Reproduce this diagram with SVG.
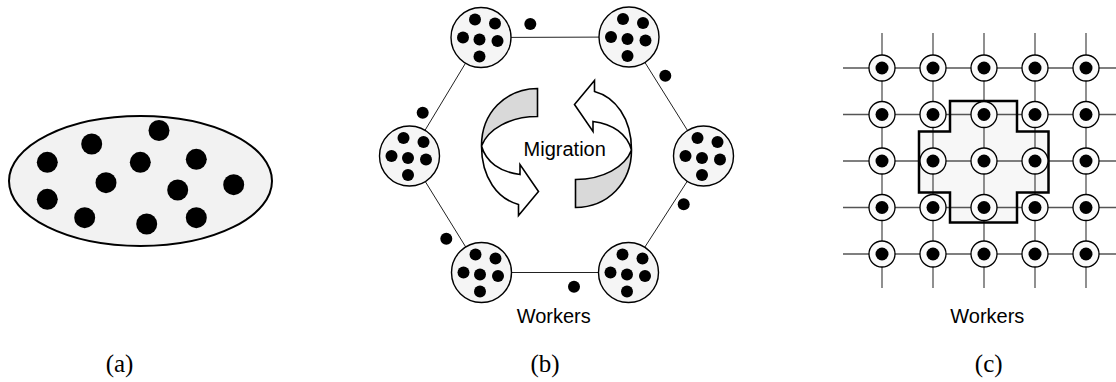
<svg xmlns="http://www.w3.org/2000/svg" xmlns:xlink="http://www.w3.org/1999/xlink" width="1116" height="382" viewBox="0 0 1116 382">
<style>
.dot{fill:#000}
.wc{fill:#f5f5f5;stroke:#000;stroke-width:1.4}
.edge{stroke:#222;stroke-width:1;fill:none}
.grid{stroke:#555;stroke-width:1.3;fill:none}
.gn{fill:#fafafa;stroke:#000;stroke-width:1.3}
.sans{font-family:"Liberation Sans",Arial,sans-serif;font-size:20px;fill:#000}
.serif{font-family:"Liberation Serif","Times New Roman",serif;font-size:25px;fill:#000}
.arr{stroke:#000;stroke-width:1.6;stroke-linejoin:miter}
</style>
<defs>
<g id="worker">
<circle class="wc" cx="0" cy="0" r="30"/>
<circle class="dot" cx="-6" cy="-18" r="6"/>
<circle class="dot" cx="14" cy="-14" r="6"/>
<circle class="dot" cx="-18" cy="0" r="6"/>
<circle class="dot" cx="-1.5" cy="2" r="6"/>
<circle class="dot" cx="16.5" cy="3.5" r="6"/>
<circle class="dot" cx="-1.5" cy="19" r="6"/>
</g>
<g id="gnode">
<circle class="gn" cx="0" cy="0" r="13"/>
<circle class="dot" cx="0" cy="0" r="6.5"/>
</g>
<g id="migarrow">
<path class="arr" fill="#d9d9d9" d="M537.5,88.5 C505,89 481.5,113 481.5,146 C488,129 510,116.5 537.5,116.5 Z"/>
<path class="arr" fill="#fff" d="M481.5,146 C481.5,178 498,199 518.5,204.5 L518.5,215.5 L538.5,191.5 L520,164.5 L520,174.5 C500,172 486,162 481.5,146 Z"/>
</g>
</defs>

<!-- Panel (a) -->
<g id="pool">
<ellipse cx="140.5" cy="181" rx="131.5" ry="65" fill="#f2f2f2" stroke="#000" stroke-width="2"/>
<circle class="dot" cx="159" cy="130.5" r="10.5"/>
<circle class="dot" cx="91.7" cy="144" r="10.5"/>
<circle class="dot" cx="47.3" cy="162.3" r="10.5"/>
<circle class="dot" cx="140.3" cy="162.3" r="10.5"/>
<circle class="dot" cx="196.3" cy="159.3" r="10.5"/>
<circle class="dot" cx="106" cy="182.7" r="10.5"/>
<circle class="dot" cx="177.7" cy="190" r="10.5"/>
<circle class="dot" cx="233.7" cy="184.7" r="10.5"/>
<circle class="dot" cx="47.3" cy="199.3" r="10.5"/>
<circle class="dot" cx="84.7" cy="217.7" r="10.5"/>
<circle class="dot" cx="146.7" cy="224" r="10.5"/>
<circle class="dot" cx="196.3" cy="217.7" r="10.5"/>
</g>
<text class="serif" x="119.5" y="372" text-anchor="middle">(a)</text>

<!-- Panel (b) -->
<g id="ring-connectors">
<polyline class="edge" points="481,37.5 629,37 703.5,156 628.5,272.5 481.5,272.5 409.5,156 481,37.5"/>
</g>
<g id="w-tl"><use xlink:href="#worker" transform="translate(481,37.5)"/></g>
<g id="w-tr"><use xlink:href="#worker" transform="translate(629,37)"/></g>
<g id="w-l"><use xlink:href="#worker" transform="translate(409.5,156)"/></g>
<g id="w-r"><use xlink:href="#worker" transform="translate(703.5,156)"/></g>
<g id="w-bl"><use xlink:href="#worker" transform="translate(481.5,272.5)"/></g>
<g id="w-br"><use xlink:href="#worker" transform="translate(628.5,272.5)"/></g>
<g id="migrants">
<circle class="dot" cx="530.3" cy="24" r="6"/>
<circle class="dot" cx="665.3" cy="75.7" r="6"/>
<circle class="dot" cx="422.7" cy="112.7" r="6"/>
<circle class="dot" cx="446.3" cy="238.7" r="6"/>
<circle class="dot" cx="683.7" cy="204.3" r="6"/>
<circle class="dot" cx="574" cy="286.7" r="6"/>
</g>
<g id="migration">
<use xlink:href="#migarrow"/>
<use xlink:href="#migarrow" transform="rotate(180 556.5 148)"/>
<text class="sans" x="564.7" y="156" text-anchor="middle">Migration</text>
</g>
<text class="sans" x="553.7" y="323.3" text-anchor="middle">Workers</text>
<text class="serif" x="545" y="372" text-anchor="middle">(b)</text>

<!-- Panel (c) -->
<g id="neighborhood-fill">
<path d="M950,101 H1017 V131.5 H1048.5 V192.5 H1017 V222.5 H950 V192.5 H919 V131.5 H950 Z" fill="#f7f7f7" stroke="none"/>
</g>
<g id="grid-connectors">
<path class="grid" d="M843,68 H1116 M843,114.5 H1116 M843,161 H1116 M843,207.5 H1116 M843,254 H1116 M882,33 V288 M933,33 V288 M984,33 V288 M1035,33 V288 M1086,33 V288"/>
</g>
<g id="neighborhood">
<path d="M950,101 H1017 V131.5 H1048.5 V192.5 H1017 V222.5 H950 V192.5 H919 V131.5 H950 Z" fill="none" stroke="#000" stroke-width="2.5"/>
</g>
<g id="g-0-0"><use xlink:href="#gnode" transform="translate(882,68)"/></g>
<g id="g-0-1"><use xlink:href="#gnode" transform="translate(933,68)"/></g>
<g id="g-0-2"><use xlink:href="#gnode" transform="translate(984,68)"/></g>
<g id="g-0-3"><use xlink:href="#gnode" transform="translate(1035,68)"/></g>
<g id="g-0-4"><use xlink:href="#gnode" transform="translate(1086,68)"/></g>
<g id="g-1-0"><use xlink:href="#gnode" transform="translate(882,114.5)"/></g>
<g id="g-1-1"><use xlink:href="#gnode" transform="translate(933,114.5)"/></g>
<g id="g-1-2"><use xlink:href="#gnode" transform="translate(984,114.5)"/></g>
<g id="g-1-3"><use xlink:href="#gnode" transform="translate(1035,114.5)"/></g>
<g id="g-1-4"><use xlink:href="#gnode" transform="translate(1086,114.5)"/></g>
<g id="g-2-0"><use xlink:href="#gnode" transform="translate(882,161)"/></g>
<g id="g-2-1"><use xlink:href="#gnode" transform="translate(933,161)"/></g>
<g id="g-2-2"><use xlink:href="#gnode" transform="translate(984,161)"/></g>
<g id="g-2-3"><use xlink:href="#gnode" transform="translate(1035,161)"/></g>
<g id="g-2-4"><use xlink:href="#gnode" transform="translate(1086,161)"/></g>
<g id="g-3-0"><use xlink:href="#gnode" transform="translate(882,207.5)"/></g>
<g id="g-3-1"><use xlink:href="#gnode" transform="translate(933,207.5)"/></g>
<g id="g-3-2"><use xlink:href="#gnode" transform="translate(984,207.5)"/></g>
<g id="g-3-3"><use xlink:href="#gnode" transform="translate(1035,207.5)"/></g>
<g id="g-3-4"><use xlink:href="#gnode" transform="translate(1086,207.5)"/></g>
<g id="g-4-0"><use xlink:href="#gnode" transform="translate(882,254)"/></g>
<g id="g-4-1"><use xlink:href="#gnode" transform="translate(933,254)"/></g>
<g id="g-4-2"><use xlink:href="#gnode" transform="translate(984,254)"/></g>
<g id="g-4-3"><use xlink:href="#gnode" transform="translate(1035,254)"/></g>
<g id="g-4-4"><use xlink:href="#gnode" transform="translate(1086,254)"/></g>
<text class="sans" x="987.3" y="323.3" text-anchor="middle">Workers</text>
<text class="serif" x="988.7" y="372" text-anchor="middle">(c)</text>
</svg>
